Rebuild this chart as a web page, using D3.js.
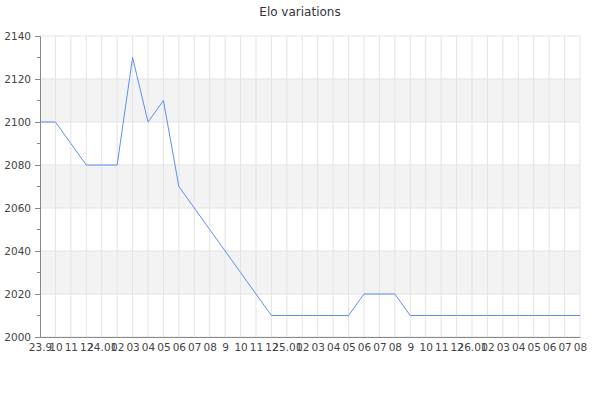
<!DOCTYPE html>
<html>
<head>
<meta charset="utf-8">
<script src="https://cdn.jsdelivr.net/npm/d3@7"></script>
<style>
  body { margin: 0; background: #fff; }
  text { font-family: "DejaVu Sans", sans-serif; }
</style>
</head>
<body>
<script>
var xLabels = ["23.9","10","11","12",
  "24.01","02","03","04","05","06","07","08","9","10","11","12",
  "25.01","02","03","04","05","06","07","08","9","10","11","12",
  "26.01","02","03","04","05","06","07","08"];
var elo = [2100,2100,2090,2080,2080,2080,2130,2100,2110,2070,
  2060,2050,2040,2030,2020,2010,2010,2010,2010,2010,
  2010,2020,2020,2020,2010,2010,2010,2010,2010,2010,
  2010,2010,2010,2010,2010,2010];
var yMajor = [2000,2020,2040,2060,2080,2100,2120,2140];
var yMinor = [2010,2030,2050,2070,2090,2110,2130];
var bands = [[2020,2040],[2060,2080],[2100,2120]];

var width = 600, height = 400;
var plotLeft = 40, plotRight = 580, plotTop = 36, plotBottom = 337;

var svg = d3.select("body").append("svg")
  .attr("width", width)
  .attr("height", height);

var x = d3.scaleLinear().domain([0, xLabels.length - 1]).range([plotLeft, plotRight]);
var y = d3.scaleLinear().domain([2000, 2140]).range([plotBottom, plotTop]);

// shaded bands
svg.append("g").selectAll("rect").data(bands).join("rect")
  .attr("x", plotLeft)
  .attr("width", plotRight - plotLeft)
  .attr("y", d => y(d[1]))
  .attr("height", d => y(d[0]) - y(d[1]))
  .attr("fill", "#f3f3f3");

// horizontal grid
svg.append("g").selectAll("line").data(yMajor).join("line")
  .attr("x1", plotLeft).attr("x2", plotRight)
  .attr("y1", d => y(d)).attr("y2", d => y(d))
  .attr("stroke", "#e3e3e3");

// vertical grid
svg.append("g").selectAll("line").data(d3.range(1, xLabels.length)).join("line")
  .attr("x1", d => x(d)).attr("x2", d => x(d))
  .attr("y1", plotTop).attr("y2", plotBottom)
  .attr("stroke", "#e3e3e3");

// y axis
var yAxis = d3.axisLeft(y).tickValues(yMajor).tickSize(5).tickPadding(4).tickFormat(d3.format("d"));
var gy = svg.append("g")
  .attr("transform", "translate(" + plotLeft + ",0)")
  .call(yAxis);
gy.select(".domain").attr("stroke", "#888");
gy.selectAll(".tick line").attr("stroke", "#888");
gy.selectAll(".tick text").attr("fill", "#444").style("font-size", "10.5px")
  .style("font-family", "DejaVu Sans, sans-serif");
gy.selectAll(".minor").data(yMinor).join("line")
  .attr("class", "minor")
  .attr("x1", -3).attr("x2", 0)
  .attr("y1", d => y(d)).attr("y2", d => y(d))
  .attr("stroke", "#888");

// x axis
var xAxis = d3.axisBottom(x).tickValues(d3.range(xLabels.length))
  .tickSize(0).tickPadding(7).tickFormat(i => xLabels[i]);
var gx = svg.append("g")
  .attr("transform", "translate(0," + plotBottom + ")")
  .call(xAxis);
gx.select(".domain").attr("stroke", "#888");
gx.selectAll(".tick text").attr("fill", "#444").style("font-size", "10.5px")
  .style("font-family", "DejaVu Sans, sans-serif");

// line
var line = d3.line()
  .x((d, i) => x(i))
  .y(d => y(d));
svg.append("path")
  .attr("d", line(elo))
  .attr("fill", "none")
  .attr("stroke", "#5b8ff0")
  .attr("stroke-width", 1);

// title
svg.append("text")
  .attr("x", width / 2)
  .attr("y", 16)
  .attr("text-anchor", "middle")
  .attr("fill", "#333")
  .style("font-size", "12px")
  .text("Elo variations");
</script>
</body>
</html>
